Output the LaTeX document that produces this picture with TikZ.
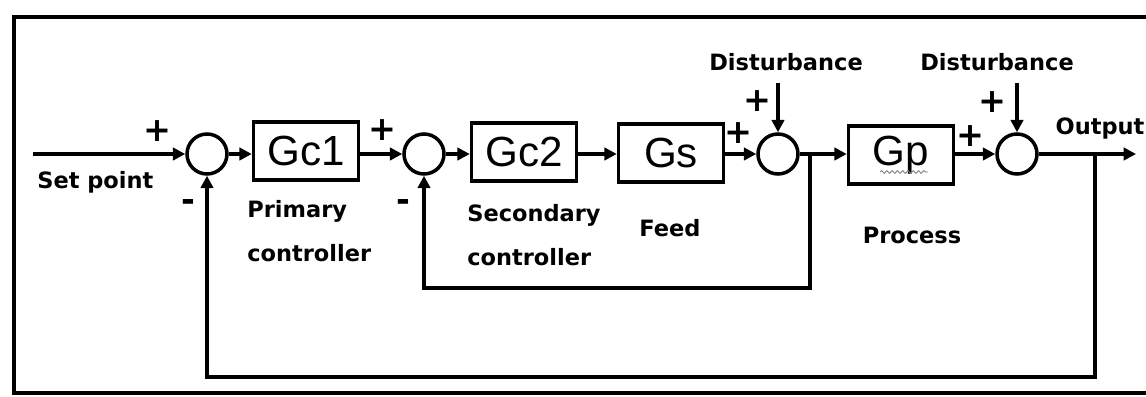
\documentclass[tikz,border=0pt]{standalone}
\usepackage{fontspec}
\usepackage{tikz}
\newfontfamily\dejavu{DejaVu Sans}
\newfontfamily\arialike{Liberation Sans}
\usetikzlibrary{positioning,arrows.meta,decorations.pathmorphing}

\begin{document}
\begin{tikzpicture}[x=0.02cm, y=-0.02cm,
  block/.style={rectangle, draw, line width=2pt, minimum width=2.1cm, minimum height=1.16cm, inner sep=0pt, font=\arialike\fontsize{24}{24}\selectfont},
  summer/.style={circle, draw, line width=2pt, minimum size=0.8cm, inner sep=0pt},
  link/.style={-{Triangle[length=7pt,width=7pt]}, line width=2.3pt},
  lbl/.style={font=\dejavu\bfseries\fontsize{12.8}{25}\selectfont, align=left, inner sep=0pt},
  sgn/.style={font=\dejavu\bfseries\fontsize{19}{19}\selectfont, inner sep=0pt}
]
\useasboundingbox (0,0) rectangle (1146,396);
\draw[line width=2.4pt] (1150,17) -- (14,17) -- (14,393) -- (1150,393);

% forward path
\coordinate (sp) at (33,154);
\node[summer] (s1) at (207,154) {};
\node[block] (gc1) at (306,151) {Gc1};
\node[summer] (s2) at (424,154) {};
\node[block] (gc2) at (524,152) {Gc2};
\node[block] (gs) at (671,153) {Gs};
\node[summer] (s3) at (778,154) {};
\node[block] (gp) at (901,155) {Gp};
\node[summer] (s4) at (1017,154) {};
\coordinate (out) at (1136,154);

\draw[link] (sp) -- (s1);
\draw[link] (s1) -- (s1 -| gc1.west);
\draw[link] (gc1.east |- s2) -- (s2);
\draw[link] (s2) -- (s2 -| gc2.west);
\draw[link] (gc2.east |- s2) -- (gs.west |- s2);
\draw[link] (gs.east |- s3) -- (s3);
\draw[link] (s3) -- (s3 -| gp.west);
\draw[link] (gp.east |- s4) -- (s4);
\draw[link] (s4) -- (out);

% disturbances
\node[lbl] (d1) at (786,62) {Disturbance};
\node[lbl] (d2) at (997,62) {Disturbance};
\coordinate (d1in) at (778,83);
\coordinate (d2in) at (1017,83);
\draw[link] (d1in) -- (s3);
\draw[link] (d2in) -- (s4);

% feedback loops
\coordinate (b1) at (810,154);
\coordinate (f1) at (810,288);
\draw[link] (b1) -- (f1) -| (s2);
\coordinate (b2) at (1095,154);
\coordinate (f2) at (1095,377);
\draw[link] (b2) -- (f2) -| (s1);

% signs
\node[sgn] (p1) at (157,131) {+};
\node[sgn] (m1) at (188,206) {-};
\node[sgn] (p2) at (382,130) {+};
\node[sgn] (m2) at (403,206) {-};
\node[sgn] (p3) at (738,133) {+};
\node[sgn] (p4) at (757,101) {+};
\node[sgn] (p5) at (970,136) {+};
\node[sgn] (p6) at (992,102) {+};

% labels
\node[lbl, anchor=west] (setp) at (37,182) {Set point};
\node[lbl, anchor=north west] (prim) at (247,200) {Primary\\controller};
\node[lbl, anchor=north west] (sec) at (467,204) {Secondary\\controller};
\node[lbl] (feed) at (670,228) {Feed};
\node[lbl] (proc) at (912,235) {Process};
\node[lbl] (outl) at (1100,128) {Output};

\draw[gray, line width=0.5pt, decorate, decoration={snake, amplitude=0.8pt, segment length=3pt}] (880,172) -- (928,172);
\end{tikzpicture}
\end{document}
